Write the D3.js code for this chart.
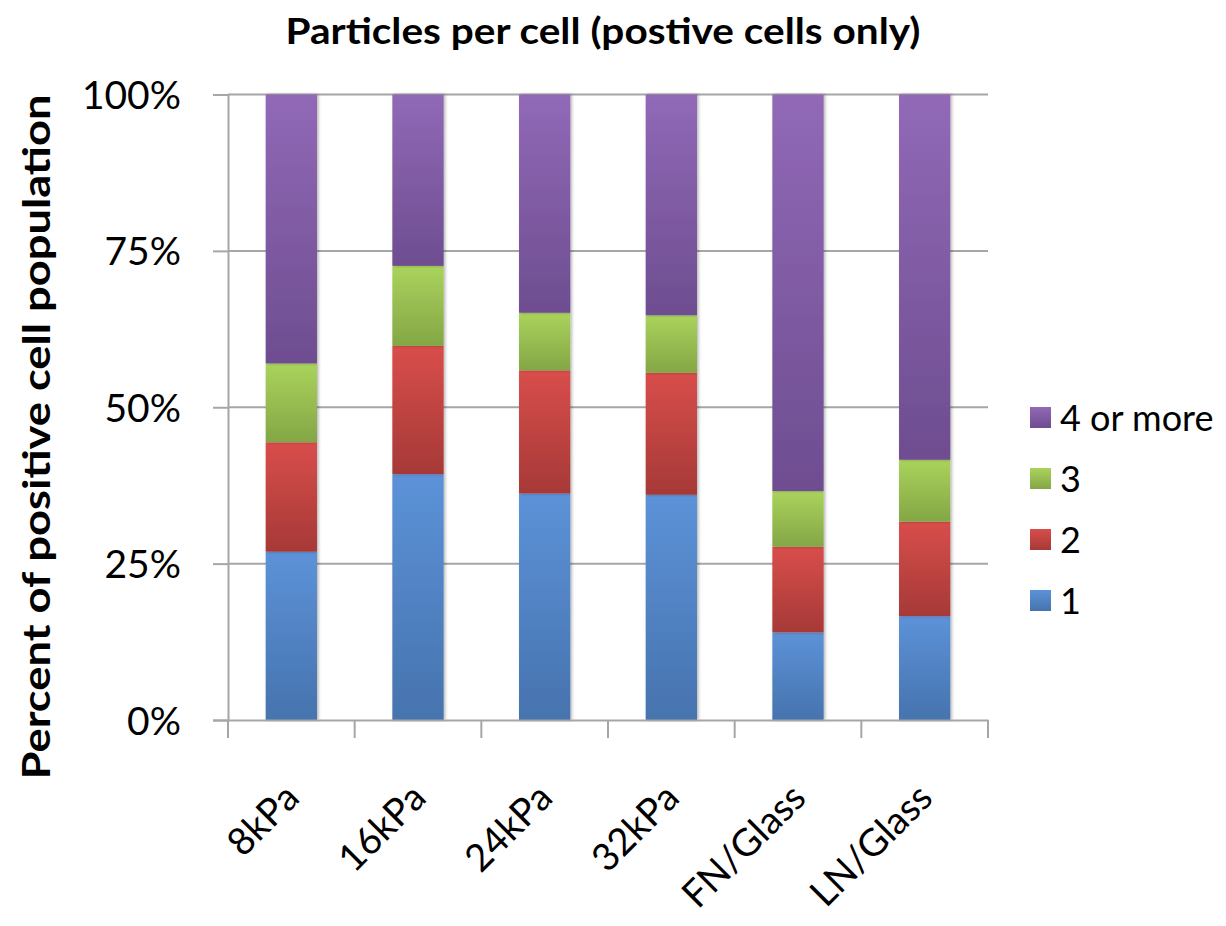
<!DOCTYPE html>
<html>
<head>
<meta charset="utf-8">
<script src="https://cdn.jsdelivr.net/npm/d3@7/dist/d3.min.js"></script>
<style>
  html, body { margin: 0; padding: 0; background: #fff; }
  svg { display: block; }
  text { font-family: Lato, "Open Sans", sans-serif; fill: #000; }
</style>
</head>
<body>
<svg id="chart" width="1226" height="926"></svg>
<script>
// Substrate conditions along the x axis
const categories = ["8kPa", "16kPa", "24kPa", "32kPa", "FN/Glass", "LN/Glass"];
// Share of positive cells (%) carrying 1, 2, 3 and 4+ particles
const seriesNames = ["1", "2", "3", "4 or more"];
const one       = [26.9, 39.3, 36.2, 36.0, 14.0, 16.6];
const two       = [17.5, 20.5, 19.7, 19.5, 13.7, 15.1];
const three     = [12.6, 12.8,  9.2,  9.2,  8.9,  9.9];
const fourPlus  = [43.0, 27.4, 34.9, 35.3, 63.4, 58.4];
const yTicks = [0, 25, 50, 75, 100];

const seriesValues = [one, two, three, fourPlus];
const rows = categories.map((c, i) => {
  const r = { cat: c };
  seriesNames.forEach((s, k) => r[s] = seriesValues[k][i]);
  return r;
});

const svg = d3.select("#chart");
const M = { left: 228, right: 988, top: 94.5, bottom: 720 };

const x = d3.scaleBand().domain(categories).range([M.left, M.right]).paddingInner(0.595).paddingOuter(0.2975);
const y = d3.scaleLinear().domain([0, 100]).range([M.bottom, M.top]);

const colors = {
  "1":         ["#5c92d8", "#4673ae"],
  "2":         ["#d84e4b", "#a63937"],
  "3":         ["#aad35c", "#84a646"],
  "4 or more": ["#9169b7", "#6e4d90"]
};

const defs = svg.append("defs");
seriesNames.forEach((s, k) => {
  const g = defs.append("linearGradient").attr("id", "grad" + k)
    .attr("x1", 0).attr("y1", 0).attr("x2", 0).attr("y2", 1);
  g.append("stop").attr("offset", "0%").attr("stop-color", colors[s][0]);
  g.append("stop").attr("offset", "100%").attr("stop-color", colors[s][1]);
});
const shadow = defs.append("filter").attr("id", "shadow")
  .attr("x", "-20%").attr("y", "-5%").attr("width", "140%").attr("height", "110%");
shadow.append("feDropShadow").attr("dx", 1.5).attr("dy", 0).attr("stdDeviation", 1.5)
  .attr("flood-color", "#000").attr("flood-opacity", 0.3);

// Title
svg.append("text").attr("x", 603).attr("y", 44).attr("text-anchor", "middle")
  .style("font-size", "36px").style("font-weight", "bold")
  .attr("textLength", 635).attr("lengthAdjust", "spacingAndGlyphs")
  .text("Particles per cell (postive cells only)");

// Horizontal gridlines
svg.append("g").selectAll("line").data(yTicks.filter(d => d > 0)).join("line")
  .attr("x1", M.left).attr("x2", M.right)
  .attr("y1", d => y(d)).attr("y2", d => y(d))
  .attr("stroke", "#a6a6a6").attr("stroke-width", 2);

// Y axis
const yAxis = svg.append("g").attr("transform", `translate(${M.left},0)`)
  .call(d3.axisLeft(y).tickValues(yTicks).tickFormat(d => d + "%").tickSize(15).tickPadding(32));
yAxis.select(".domain").attr("stroke", "#a6a6a6").attr("stroke-width", 2);
yAxis.selectAll(".tick line").attr("stroke", "#a6a6a6").attr("stroke-width", 2);
yAxis.selectAll(".tick text").style("font-size", "39px").attr("dy", "0.36em");

// Stacked bars
const stack = d3.stack().keys(seriesNames);
const layers = stack(rows);
svg.append("g").selectAll("g").data(layers).join("g")
  .attr("fill", (d, k) => `url(#grad${k})`)
  .selectAll("rect").data(d => d).join("rect")
  .attr("x", d => x(d.data.cat))
  .attr("width", x.bandwidth())
  .attr("y", d => y(d[1]))
  .attr("height", d => y(d[0]) - y(d[1]))
  .attr("filter", "url(#shadow)");

// X axis
const xAxis = svg.append("g").attr("transform", `translate(0,${M.bottom})`)
  .call(d3.axisBottom(x).tickSize(0).tickFormat(""));
xAxis.select(".domain").attr("stroke", "#a6a6a6").attr("stroke-width", 2);
const boundaries = d3.range(categories.length + 1).map(i => M.left + i * x.step());
svg.append("g").selectAll("line").data(boundaries).join("line")
  .attr("x1", d => d).attr("x2", d => d)
  .attr("y1", M.bottom).attr("y2", M.bottom + 18)
  .attr("stroke", "#a6a6a6").attr("stroke-width", 2);

svg.append("g").selectAll("text").data(categories).join("text")
  .attr("transform", d => `translate(${x(d) + x.bandwidth() / 2 + 10},${M.bottom + 80}) rotate(-45)`)
  .attr("text-anchor", "end")
  .style("font-size", "38px")
  .text(d => d);

// Y axis title
svg.append("text")
  .attr("transform", `translate(50,437) rotate(-90)`)
  .attr("text-anchor", "middle")
  .style("font-size", "38px").style("font-weight", "bold")
  .attr("textLength", 685).attr("lengthAdjust", "spacingAndGlyphs")
  .text("Percent of positive cell population");

// Legend (top to bottom: 4 or more, 3, 2, 1)
const legendItems = seriesNames.slice().reverse();
const lg = svg.append("g").selectAll("g").data(legendItems).join("g")
  .attr("transform", (d, i) => `translate(1030,${418 + i * 61})`);
lg.append("rect").attr("x", 0).attr("y", -11).attr("width", 21).attr("height", 21)
  .attr("fill", d => `url(#grad${seriesNames.indexOf(d)})`);
lg.append("text").attr("x", 30).attr("y", 0).attr("dy", "0.36em")
  .style("font-size", "36px").text(d => d);
</script>
</body>
</html>
